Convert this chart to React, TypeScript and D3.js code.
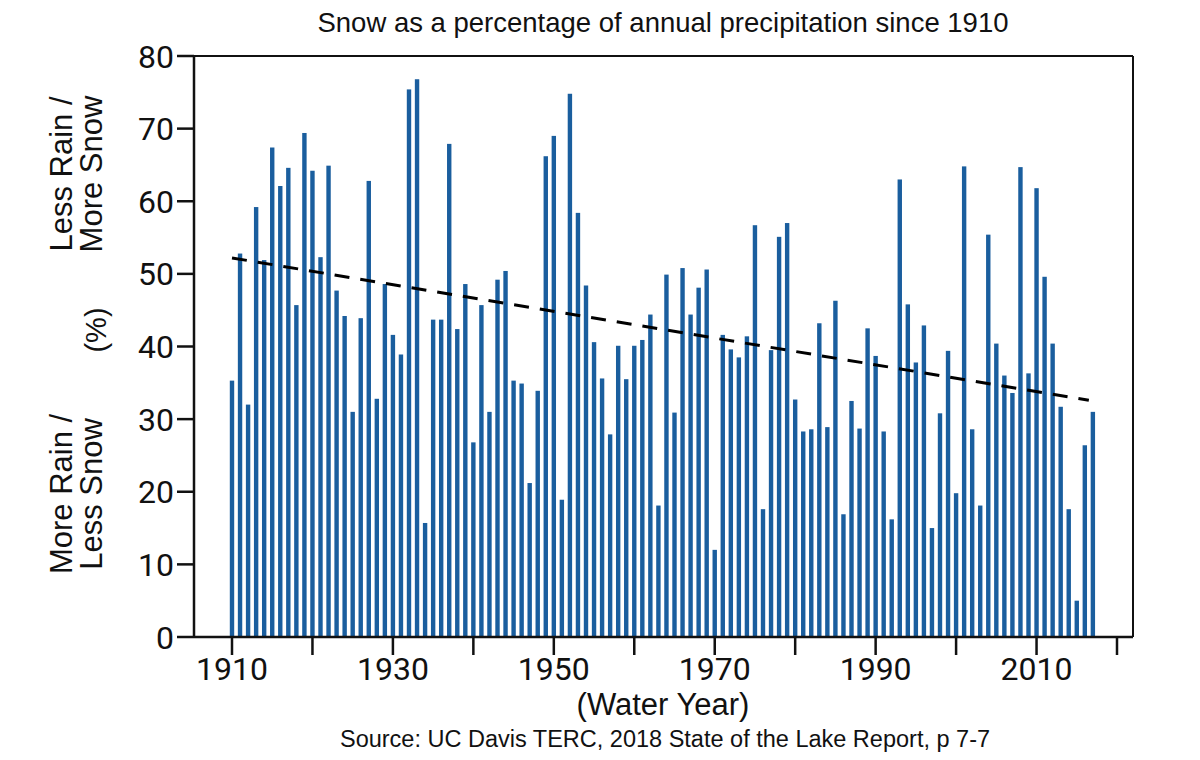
import React from "react";
import * as d3 from "d3";

const years: number[] = d3.range(1910, 2018);
const snowPct: number[] = [
  35.3, 52.8, 32.0, 59.2, 51.9, 67.4, 62.1, 64.6, 45.7, 69.4,
  64.2, 52.3, 64.9, 47.7, 44.2, 31.0, 43.9, 62.8, 32.8, 48.6,
  41.6, 38.9, 75.4, 76.8, 15.7, 43.7, 43.7, 67.9, 42.4, 48.6,
  26.8, 45.7, 31.0, 49.2, 50.4, 35.3, 34.9, 21.2, 33.9, 66.2,
  69.0, 18.9, 74.8, 58.4, 48.4, 40.6, 35.6, 27.9, 40.1, 35.5,
  40.1, 40.9, 44.4, 18.1, 49.9, 30.9, 50.8, 44.4, 48.1, 50.6,
  12.0, 41.6, 39.6, 38.5, 41.4, 56.7, 17.6, 39.5, 55.1, 57.0,
  32.7, 28.3, 28.6, 43.2, 28.9, 46.3, 16.9, 32.5, 28.7, 42.5,
  38.7, 28.3, 16.2, 63.0, 45.8, 37.8, 42.9, 15.0, 30.8, 39.4,
  19.8, 64.8, 28.6, 18.1, 55.4, 40.4, 36.0, 33.6, 64.7, 36.3,
  61.8, 49.6, 40.4, 31.7, 17.6, 5.0, 26.4, 31.0,
];
const trendYears: number[] = [1910, 2016.5];
const trendValues: number[] = [52.2, 32.6];
const yTicks: number[] = [0, 10, 20, 30, 40, 50, 60, 70, 80];
const xTicks: number[] = d3.range(1910, 2030, 10);
const xTickLabels: number[] = [1910, 1930, 1950, 1970, 1990, 2010];

const title = "Snow as a percentage of annual precipitation since 1910";
const xTitle = "(Water Year)";
const source = "Source: UC Davis TERC, 2018 State of the Lake Report, p 7-7";

export default function App() {
  const left = 194, right = 1133, top = 56, bottom = 637;
  const x = d3.scaleLinear().domain([1910, 2020]).range([232, 1117]);
  const y = d3.scaleLinear().domain([0, 80]).range([bottom, top]);
  const barW = 4.4;
  const line = d3
    .line<number>()
    .x((d) => x(d))
    .y((_, i) => y(trendValues[i]));
  const font = "'Liberation Sans', Arial, Helvetica, sans-serif";
  const numFont = "Roboto, 'Liberation Sans', Arial, sans-serif";

  return (
    <svg
      width={1200}
      height={760}
      style={{ position: "absolute", left: 0, top: 0, background: "#fff" }}
    >
      <rect x={0} y={0} width={1200} height={760} fill="#fff" />
      <text x={663} y={32} textAnchor="middle" fontFamily={font} fontSize={27.5} fill="#111">
        {title}
      </text>

      {years.map((yr, i) => (
        <rect
          key={yr}
          x={x(yr) - barW / 2}
          y={y(snowPct[i])}
          width={barW}
          height={y(0) - y(snowPct[i])}
          fill="#1a5e9e"
        />
      ))}

      <path
        d={line(trendYears) || ""}
        fill="none"
        stroke="#000"
        strokeWidth={3}
        strokeDasharray="15,11"
      />

      {/* frame */}
      <line x1={left} y1={top} x2={right} y2={top} stroke="#111" strokeWidth={2} />
      <line x1={right} y1={top} x2={right} y2={bottom} stroke="#111" strokeWidth={2} />
      <line x1={left} y1={top - 1} x2={left} y2={bottom} stroke="#111" strokeWidth={2.5} />
      <line x1={left} y1={bottom} x2={right} y2={bottom} stroke="#111" strokeWidth={2.5} />

      {yTicks.map((t) => (
        <g key={t}>
          <line x1={left - 17} x2={left} y1={y(t)} y2={y(t)} stroke="#111" strokeWidth={2.5} />
          <text
            x={left - 20}
            y={y(t)}
            dy="0.36em"
            textAnchor="end"
            fontFamily={numFont}
            fontSize={32}
            fill="#111"
          >
            {t}
          </text>
        </g>
      ))}

      {xTicks.map((t) => (
        <line key={t} x1={x(t)} x2={x(t)} y1={bottom} y2={bottom + 18} stroke="#111" strokeWidth={2.5} />
      ))}
      {xTickLabels.map((t) => (
        <text
          key={t}
          x={x(t)}
          y={680}
          textAnchor="middle"
          fontFamily={numFont}
          fontSize={32}
          fill="#111"
        >
          {t}
        </text>
      ))}

      <text x={663} y={715} textAnchor="middle" fontFamily={font} fontSize={31} fill="#111">
        {xTitle}
      </text>
      <text
        x={665}
        y={747}
        textAnchor="middle"
        fontFamily={font}
        fontSize={23.5}
        fill="#111"
      >
        {source}
      </text>

      {/* left labels */}
      <g transform="translate(0,174)">
        <text transform="rotate(-90)" x={0} y={72} textAnchor="middle" fontFamily={font} fontSize={31} fill="#111">
          Less Rain /
        </text>
        <text transform="rotate(-90)" x={0} y={102} textAnchor="middle" fontFamily={font} fontSize={31} fill="#111">
          More Snow
        </text>
      </g>
      <g transform="translate(0,330)">
        <text transform="rotate(-90)" x={0} y={106} textAnchor="middle" fontFamily={font} fontSize={29} fill="#111">
          (%)
        </text>
      </g>
      <g transform="translate(0,494)">
        <text transform="rotate(-90)" x={0} y={72} textAnchor="middle" fontFamily={font} fontSize={31} fill="#111">
          More Rain /
        </text>
        <text transform="rotate(-90)" x={0} y={102} textAnchor="middle" fontFamily={font} fontSize={31} fill="#111">
          Less Snow
        </text>
      </g>
    </svg>
  );
}
